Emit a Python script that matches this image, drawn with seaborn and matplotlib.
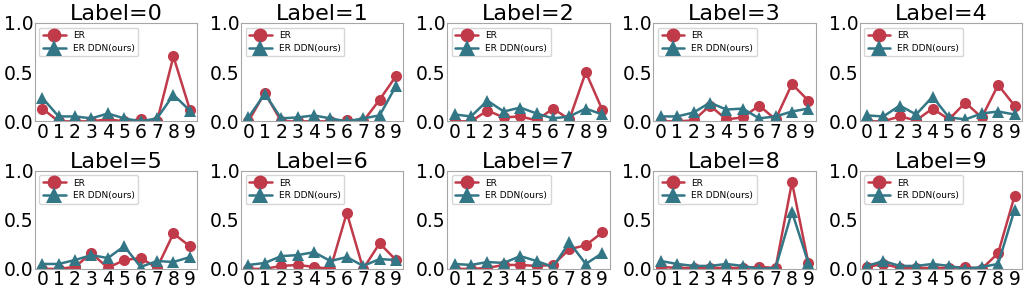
import numpy as np
import pandas as pd
import seaborn as sns
import matplotlib
matplotlib.use("Agg")
import matplotlib.pyplot as plt

# class index on the x axis
classes = list(range(10))

# per-label probability curves
er = [
    [0.13, 0.00, 0.00, 0.00, 0.02, 0.00, 0.02, 0.00, 0.66, 0.12],
    [0.00, 0.29, 0.00, 0.00, 0.00, 0.00, 0.01, 0.00, 0.22, 0.46],
    [0.00, 0.00, 0.11, 0.04, 0.05, 0.01, 0.13, 0.02, 0.50, 0.12],
    [0.00, 0.00, 0.01, 0.16, 0.02, 0.04, 0.16, 0.02, 0.38, 0.21],
    [0.00, 0.00, 0.05, 0.01, 0.13, 0.02, 0.19, 0.04, 0.37, 0.16],
    [0.00, 0.00, 0.02, 0.16, 0.01, 0.09, 0.11, 0.01, 0.36, 0.23],
    [0.00, 0.00, 0.03, 0.04, 0.02, 0.00, 0.57, 0.00, 0.26, 0.09],
    [0.00, 0.00, 0.01, 0.04, 0.04, 0.03, 0.04, 0.20, 0.24, 0.37],
    [0.02, 0.01, 0.01, 0.01, 0.01, 0.01, 0.02, 0.01, 0.88, 0.06],
    [0.02, 0.05, 0.01, 0.01, 0.01, 0.01, 0.02, 0.00, 0.16, 0.74],
]
er_ddn = [
    [0.24, 0.05, 0.05, 0.03, 0.08, 0.03, 0.00, 0.03, 0.27, 0.11],
    [0.04, 0.28, 0.03, 0.04, 0.06, 0.03, 0.00, 0.03, 0.06, 0.36],
    [0.07, 0.05, 0.21, 0.10, 0.14, 0.08, 0.03, 0.05, 0.13, 0.07],
    [0.05, 0.05, 0.09, 0.19, 0.12, 0.13, 0.03, 0.05, 0.10, 0.13],
    [0.06, 0.05, 0.16, 0.07, 0.25, 0.04, 0.02, 0.08, 0.10, 0.07],
    [0.05, 0.05, 0.09, 0.14, 0.11, 0.23, 0.02, 0.08, 0.07, 0.12],
    [0.04, 0.06, 0.13, 0.14, 0.17, 0.08, 0.12, 0.03, 0.10, 0.09],
    [0.05, 0.04, 0.07, 0.06, 0.13, 0.08, 0.02, 0.27, 0.05, 0.16],
    [0.08, 0.05, 0.03, 0.03, 0.05, 0.03, 0.00, 0.01, 0.58, 0.06],
    [0.03, 0.08, 0.03, 0.03, 0.05, 0.03, 0.00, 0.02, 0.05, 0.60],
]
series_names = ["ER", "ER DDN(ours)"]

red = "#c03a4a"
teal = "#337686"

sns.set_style("white", {"axes.edgecolor": ".65", "text.color": "black",
                        "xtick.color": "black", "ytick.color": "black"})
plt.rcParams['font.family'] = ['DejaVu Sans']

fig, axes = plt.subplots(2, 5, figsize=(10.25, 2.91), dpi=100)
plt.subplots_adjust(left=0.034, right=0.997, top=0.921, bottom=0.076,
                    wspace=0.27, hspace=0.5)

for i, ax in enumerate(axes.flat):
    sns.lineplot(x=classes, y=er[i], ax=ax, color=red, marker="o",
                 markersize=8, linewidth=1.8, markeredgewidth=0,
                 label=series_names[0])
    sns.lineplot(x=classes, y=er_ddn[i], ax=ax, color=teal, marker="^",
                 markersize=9, linewidth=1.8, markeredgewidth=0,
                 label=series_names[1])
    ax.set_ylim(0, 1.0)
    ax.set_yticks([0.0, 0.5, 1.0])
    ax.set_xticks(classes)
    ax.tick_params(axis="both", labelsize=13.5, length=0, pad=1,
                   labelcolor="black")
    ax.set_title(f"Label={i}", fontsize=16, pad=2, color="black")
    ax.legend(loc="upper left", fontsize=6.5, frameon=True, framealpha=0.8,
              handlelength=2.5, borderpad=0.4, labelspacing=0.4,
              markerscale=1.25)

fig.savefig("out.png", dpi=100)
